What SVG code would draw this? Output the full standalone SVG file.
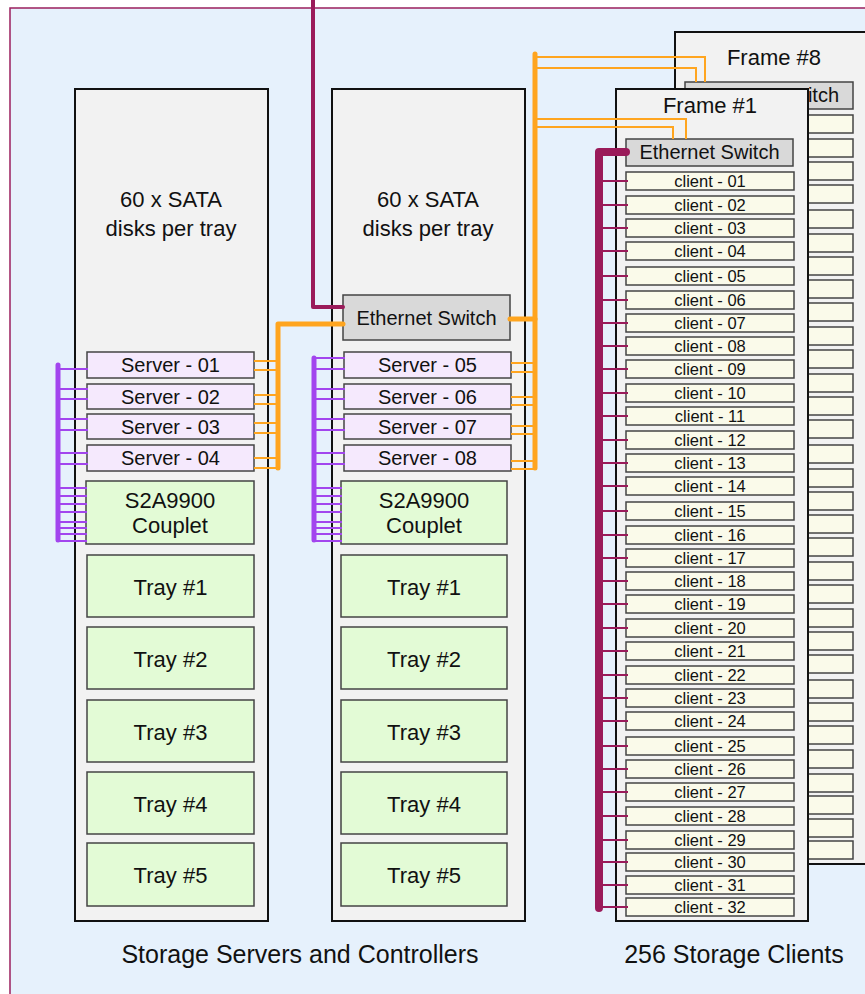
<svg xmlns="http://www.w3.org/2000/svg" width="865" height="994" viewBox="0 0 865 994">
<style>
text{font-family:"Liberation Sans",Arial,sans-serif;fill:#111;text-anchor:middle}
.col{fill:#f2f2f2;stroke:#111;stroke-width:2}
.sw{fill:#d9d9d9;stroke:#444;stroke-width:1.5}
.srv{fill:#f5e9fd;stroke:#444;stroke-width:1.5}
.grn{fill:#e3fbd6;stroke:#444;stroke-width:1.5}
.cl{fill:#fafaea;stroke:#444;stroke-width:1.5}
.t22{font-size:22px}
.t20{font-size:20px}
.t17{font-size:16.5px}
.t25{font-size:25px}
.ot{stroke:#ffa51f;stroke-width:2;fill:none}
.ok{stroke:#ffa51f;stroke-width:5;fill:none;stroke-linecap:round;stroke-linejoin:round}
.pt{stroke:#a245ee;stroke-width:2;fill:none}
.pk{stroke:#a245ee;stroke-width:5;fill:none;stroke-linecap:round}
.mt{stroke:#9a1b5a;stroke-width:2;fill:none}
.mk{stroke:#9a1b5a;fill:none;stroke-linecap:round;stroke-linejoin:round}
</style>
<defs>
<clipPath id="f8clip"><rect x="809" y="80" width="60" height="32"/></clipPath>
</defs>
<rect x="10" y="8" width="870" height="1000" fill="#e6f1fc" stroke="#9b1f5e" stroke-width="1.5"/>

<g id="storage-left">
<rect class="col" x="75" y="89" width="193" height="832"/>
<text class="t22" x="171" y="207">60 x SATA</text>
<text class="t22" x="171" y="236">disks per tray</text>
</g>
<g id="storage-mid">
<rect class="col" x="332" y="89" width="193" height="832"/>
<text class="t22" x="428" y="207">60 x SATA</text>
<text class="t22" x="428" y="236">disks per tray</text>
</g>

<g id="switch-storage"><rect class="sw" x="343" y="295" width="167" height="45"/><text class="t20" x="426.5" y="325">Ethernet Switch</text></g>

<g id="server-01"><rect class="srv" x="87" y="352" width="167" height="26"/><text class="t20" x="170.5" y="372">Server - 01</text></g>
<g id="server-02"><rect class="srv" x="87" y="384" width="167" height="25"/><text class="t20" x="170.5" y="403.5">Server - 02</text></g>
<g id="server-03"><rect class="srv" x="87" y="414" width="167" height="25"/><text class="t20" x="170.5" y="433.5">Server - 03</text></g>
<g id="server-04"><rect class="srv" x="87" y="445" width="167" height="26"/><text class="t20" x="170.5" y="465">Server - 04</text></g>
<g id="couplet-left"><rect class="grn" x="86" y="481" width="168" height="63"/><text class="t22" x="170" y="508">S2A9900</text><text class="t22" x="170" y="533">Couplet</text></g>
<g id="tray-l1"><rect class="grn" x="87" y="555" width="167" height="62"/><text class="t22" x="170.5" y="595">Tray #1</text></g>
<g id="tray-l2"><rect class="grn" x="87" y="627" width="167" height="62"/><text class="t22" x="170.5" y="667">Tray #2</text></g>
<g id="tray-l3"><rect class="grn" x="87" y="700" width="167" height="62"/><text class="t22" x="170.5" y="740">Tray #3</text></g>
<g id="tray-l4"><rect class="grn" x="87" y="772" width="167" height="62"/><text class="t22" x="170.5" y="812">Tray #4</text></g>
<g id="tray-l5"><rect class="grn" x="87" y="843" width="167" height="63"/><text class="t22" x="170.5" y="883">Tray #5</text></g>

<g id="server-05"><rect class="srv" x="344" y="352" width="167" height="26"/><text class="t20" x="427.5" y="372">Server - 05</text></g>
<g id="server-06"><rect class="srv" x="344" y="384" width="167" height="25"/><text class="t20" x="427.5" y="403.5">Server - 06</text></g>
<g id="server-07"><rect class="srv" x="344" y="414" width="167" height="25"/><text class="t20" x="427.5" y="433.5">Server - 07</text></g>
<g id="server-08"><rect class="srv" x="344" y="445" width="167" height="26"/><text class="t20" x="427.5" y="465">Server - 08</text></g>
<g id="couplet-mid"><rect class="grn" x="341" y="481" width="166" height="63"/><text class="t22" x="424" y="508">S2A9900</text><text class="t22" x="424" y="533">Couplet</text></g>
<g id="tray-m1"><rect class="grn" x="341" y="555" width="166" height="62"/><text class="t22" x="424" y="595">Tray #1</text></g>
<g id="tray-m2"><rect class="grn" x="341" y="627" width="166" height="62"/><text class="t22" x="424" y="667">Tray #2</text></g>
<g id="tray-m3"><rect class="grn" x="341" y="700" width="166" height="62"/><text class="t22" x="424" y="740">Tray #3</text></g>
<g id="tray-m4"><rect class="grn" x="341" y="772" width="166" height="62"/><text class="t22" x="424" y="812">Tray #4</text></g>
<g id="tray-m5"><rect class="grn" x="341" y="843" width="166" height="63"/><text class="t22" x="424" y="883">Tray #5</text></g>

<g id="frame-8">
<rect class="col" x="675" y="32" width="200" height="832"/>
<text class="t22" x="774" y="65">Frame #8</text>
<rect class="sw" x="685" y="82" width="168" height="27"/><text class="t20" x="769" y="102" clip-path="url(#f8clip)">Ethernet Switch</text>
<g class="cl">
<rect x="685" y="115" width="168" height="18"/><rect x="685" y="139" width="168" height="18"/>
<rect x="685" y="162" width="168" height="18"/><rect x="685" y="185" width="168" height="18"/>
<rect x="685" y="210" width="168" height="18"/><rect x="685" y="234" width="168" height="18"/>
<rect x="685" y="257" width="168" height="18"/><rect x="685" y="280" width="168" height="18"/>
<rect x="685" y="303" width="168" height="18"/><rect x="685" y="327" width="168" height="18"/>
<rect x="685" y="350" width="168" height="18"/><rect x="685" y="374" width="168" height="18"/>
<rect x="685" y="397" width="168" height="18"/><rect x="685" y="420" width="168" height="18"/>
<rect x="685" y="445" width="168" height="18"/><rect x="685" y="469" width="168" height="18"/>
<rect x="685" y="492" width="168" height="18"/><rect x="685" y="515" width="168" height="18"/>
<rect x="685" y="538" width="168" height="18"/><rect x="685" y="562" width="168" height="18"/>
<rect x="685" y="585" width="168" height="18"/><rect x="685" y="609" width="168" height="18"/>
<rect x="685" y="632" width="168" height="18"/><rect x="685" y="655" width="168" height="18"/>
<rect x="685" y="680" width="168" height="18"/><rect x="685" y="703" width="168" height="18"/>
<rect x="685" y="726" width="168" height="18"/><rect x="685" y="750" width="168" height="18"/>
<rect x="685" y="774" width="168" height="18"/><rect x="685" y="796" width="168" height="18"/>
<rect x="685" y="819" width="168" height="18"/><rect x="685" y="841" width="168" height="18"/>
</g>
</g>

<g id="frame-1">
<rect class="col" x="616" y="89" width="192" height="832"/>
<text class="t22" x="710" y="113">Frame #1</text>
<rect class="sw" x="626" y="139" width="167" height="27"/><text class="t20" x="709.5" y="159">Ethernet Switch</text>
</g>
<g id="clients" class="t17">
<g id="client-01"><rect class="cl" x="626" y="172" width="168" height="18"/><text x="710" y="187">client - 01</text></g>
<g id="client-02"><rect class="cl" x="626" y="196" width="168" height="18"/><text x="710" y="211">client - 02</text></g>
<g id="client-03"><rect class="cl" x="626" y="219" width="168" height="18"/><text x="710" y="234">client - 03</text></g>
<g id="client-04"><rect class="cl" x="626" y="242" width="168" height="18"/><text x="710" y="257">client - 04</text></g>
<g id="client-05"><rect class="cl" x="626" y="267" width="168" height="18"/><text x="710" y="282">client - 05</text></g>
<g id="client-06"><rect class="cl" x="626" y="291" width="168" height="18"/><text x="710" y="306">client - 06</text></g>
<g id="client-07"><rect class="cl" x="626" y="314" width="168" height="18"/><text x="710" y="329">client - 07</text></g>
<g id="client-08"><rect class="cl" x="626" y="337" width="168" height="18"/><text x="710" y="352">client - 08</text></g>
<g id="client-09"><rect class="cl" x="626" y="360" width="168" height="18"/><text x="710" y="375">client - 09</text></g>
<g id="client-10"><rect class="cl" x="626" y="384" width="168" height="18"/><text x="710" y="399">client - 10</text></g>
<g id="client-11"><rect class="cl" x="626" y="407" width="168" height="18"/><text x="710" y="422">client - 11</text></g>
<g id="client-12"><rect class="cl" x="626" y="431" width="168" height="18"/><text x="710" y="446">client - 12</text></g>
<g id="client-13"><rect class="cl" x="626" y="454" width="168" height="18"/><text x="710" y="469">client - 13</text></g>
<g id="client-14"><rect class="cl" x="626" y="477" width="168" height="18"/><text x="710" y="492">client - 14</text></g>
<g id="client-15"><rect class="cl" x="626" y="502" width="168" height="18"/><text x="710" y="517">client - 15</text></g>
<g id="client-16"><rect class="cl" x="626" y="526" width="168" height="18"/><text x="710" y="541">client - 16</text></g>
<g id="client-17"><rect class="cl" x="626" y="549" width="168" height="18"/><text x="710" y="564">client - 17</text></g>
<g id="client-18"><rect class="cl" x="626" y="572" width="168" height="18"/><text x="710" y="587">client - 18</text></g>
<g id="client-19"><rect class="cl" x="626" y="595" width="168" height="18"/><text x="710" y="610">client - 19</text></g>
<g id="client-20"><rect class="cl" x="626" y="619" width="168" height="18"/><text x="710" y="634">client - 20</text></g>
<g id="client-21"><rect class="cl" x="626" y="642" width="168" height="18"/><text x="710" y="657">client - 21</text></g>
<g id="client-22"><rect class="cl" x="626" y="666" width="168" height="18"/><text x="710" y="681">client - 22</text></g>
<g id="client-23"><rect class="cl" x="626" y="689" width="168" height="18"/><text x="710" y="704">client - 23</text></g>
<g id="client-24"><rect class="cl" x="626" y="712" width="168" height="18"/><text x="710" y="727">client - 24</text></g>
<g id="client-25"><rect class="cl" x="626" y="737" width="168" height="18"/><text x="710" y="752">client - 25</text></g>
<g id="client-26"><rect class="cl" x="626" y="760" width="168" height="18"/><text x="710" y="775">client - 26</text></g>
<g id="client-27"><rect class="cl" x="626" y="783" width="168" height="18"/><text x="710" y="798">client - 27</text></g>
<g id="client-28"><rect class="cl" x="626" y="807" width="168" height="18"/><text x="710" y="822">client - 28</text></g>
<g id="client-29"><rect class="cl" x="626" y="831" width="168" height="18"/><text x="710" y="846">client - 29</text></g>
<g id="client-30"><rect class="cl" x="626" y="853" width="168" height="18"/><text x="710" y="868">client - 30</text></g>
<g id="client-31"><rect class="cl" x="626" y="876" width="168" height="18"/><text x="710" y="891">client - 31</text></g>
<g id="client-32"><rect class="cl" x="626" y="898" width="168" height="18"/><text x="710" y="913">client - 32</text></g>
</g>

<g id="connectors">
<path class="mk" stroke-width="4" d="M313 0 V307 H343"/>
<path class="mk" stroke-width="8" d="M626 152 H599 V908"/>
<path class="mt" d="M599 181H628M599 205H628M599 228H628M599 251H628M599 276H628M599 300H628M599 323H628M599 346H628M599 369H628M599 393H628M599 416H628M599 440H628M599 463H628M599 486H628M599 511H628M599 535H628M599 558H628M599 581H628M599 604H628M599 628H628M599 651H628M599 675H628M599 698H628M599 721H628M599 746H628M599 769H628M599 792H628M599 816H628M599 840H628M599 862H628M599 885H628M599 907H628"/>
<path class="pk" d="M58 365 V540"/>
<path class="pt" d="M58 369H88M58 389H88M58 399H88M58 419H88M58 430H88M58 453H88M58 464H88M58 488H87M58 496H87M58 504H87M58 512H87M58 522H87M58 528H87M58 534H87M58 541H87"/>
<path class="pk" d="M314 358 V540"/>
<path class="pt" d="M314 358H345M314 369H345M314 389H345M314 399H345M314 419H345M314 430H345M314 453H345M314 464H345M314 488H342M314 496H342M314 504H342M314 512H342M314 522H342M314 528H342M314 534H342M314 541H342"/>
<path class="ok" d="M343 324 H278 V468"/>
<path class="ot" d="M254 361H278M254 370H278M254 395H278M254 404H278M254 423H278M254 433H278M254 458H278M254 468H278"/>
<path class="ok" d="M510 319 H535"/>
<path class="ok" d="M535 54 V468"/>
<path class="ot" d="M511 363H535M511 372H535M511 397H535M511 405H535M511 426H535M511 434H535M511 461H535M511 469H535"/>
<path class="ot" d="M535 57 H705 V82 M535 68 H696 V82 M535 119 H686 V139 M535 127 H673 V139"/>
</g>

<g id="labels">
<text class="t25" x="300" y="963">Storage Servers and Controllers</text>
<text class="t25" x="734" y="963">256 Storage Clients</text>
</g>
</svg>
